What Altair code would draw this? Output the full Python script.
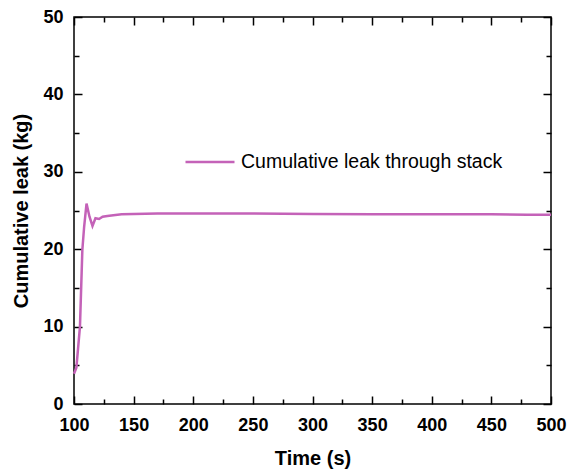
import altair as alt
import pandas as pd

# Cumulative hydrogen leak through the stack over time
time_s = [100, 102, 105, 107, 108.5, 110.5, 113, 115.5, 118, 121, 124, 128,
          133, 140, 150, 170, 200, 250, 300, 350, 400, 450, 480, 500]
leak_kg = [3.9, 4.7, 10.0, 19.9, 22.9, 25.9, 24.2, 23.0, 24.0, 23.9, 24.2, 24.3,
           24.4, 24.5, 24.55, 24.6, 24.6, 24.6, 24.55, 24.5, 24.5, 24.5, 24.45, 24.45]
series_name = "Cumulative leak through stack"

x_labels = [100, 150, 200, 250, 300, 350, 400, 450, 500]
x_ticks = list(range(100, 501, 25))
y_labels = [0, 10, 20, 30, 40, 50]
y_ticks = list(range(0, 51, 5))

W, H = 477, 387
LINE_COLOR = "#c462b8"
FONT = "Liberation Sans"

df = pd.DataFrame({"t": time_s, "leak": leak_kg, "series": series_name})

x_scale = alt.Scale(domain=[100, 500], nice=False, zero=False)
y_scale = alt.Scale(domain=[0, 50], nice=False)

tick_x = {"condition": {"test": "datum.value % 50 === 0", "value": 8}, "value": 5}
tick_y = {"condition": {"test": "datum.value % 10 === 0", "value": 8}, "value": 5}

base = alt.Chart(df)

# Data line with labelled axes and legend
line = base.mark_line(strokeWidth=2.5, color=LINE_COLOR).encode(
    x=alt.X("t:Q", scale=x_scale, title="Time (s)",
            axis=alt.Axis(values=x_labels, ticks=False, domain=False, grid=False,
                          labelFlush=False, labelPadding=12, titlePadding=14,
                          orient="bottom")),
    y=alt.Y("leak:Q", scale=y_scale, title="Cumulative leak (kg)",
            axis=alt.Axis(values=y_labels, ticks=False, domain=False, grid=False,
                          labelFlush=False, labelPadding=11, titlePadding=11,
                          orient="left")),
    color=alt.Color("series:N", scale=alt.Scale(range=[LINE_COLOR]),
                    legend=alt.Legend(title=None, orient="none", legendX=110, legendY=119,
                                      symbolType="stroke", symbolSize=2401,
                                      symbolStrokeWidth=2.5, labelFontSize=19.5,
                                      labelFont=FONT, labelFontWeight="normal",
                                      labelColor="#000", labelOffset=5, labelLimit=0)),
)

# Inward ticks on the bottom and left edges
ticks_bl = base.mark_line(opacity=0).encode(
    x=alt.X("t:Q", scale=x_scale, title=None,
            axis=alt.Axis(orient="top", offset=-H, values=x_ticks, labels=False,
                          domain=False, grid=False, tickSize=tick_x, tickWidth=1.5,
                          tickColor="#000")),
    y=alt.Y("leak:Q", scale=y_scale, title=None,
            axis=alt.Axis(orient="right", offset=-W, values=y_ticks, labels=False,
                          domain=False, grid=False, tickSize=tick_y, tickWidth=1.5,
                          tickColor="#000")),
)

# Inward ticks on the top and right edges
ticks_tr = base.mark_line(opacity=0).encode(
    x=alt.X("t:Q", scale=x_scale, title=None,
            axis=alt.Axis(orient="bottom", offset=-H, values=x_ticks, labels=False,
                          domain=False, grid=False, tickSize=tick_x, tickWidth=1.5,
                          tickColor="#000")),
    y=alt.Y("leak:Q", scale=y_scale, title=None,
            axis=alt.Axis(orient="left", offset=-W, values=y_ticks, labels=False,
                          domain=False, grid=False, tickSize=tick_y, tickWidth=1.5,
                          tickColor="#000")),
)

chart = alt.layer(line, ticks_bl, ticks_tr).resolve_axis(
    x="independent", y="independent"
).properties(
    width=W, height=H,
    autosize=alt.AutoSizeParams(type="none"),
    padding={"left": 74, "top": 17, "right": 28, "bottom": 70},
).configure(
    font=FONT,
).configure_view(
    stroke="#000", strokeWidth=1.5,
).configure_axis(
    labelFont=FONT, labelFontSize=18, labelFontWeight="bold", labelColor="#000",
    titleFont=FONT, titleFontSize=20, titleFontWeight="bold", titleColor="#000",
)

chart.save("out.html", embed_options={"renderer": "svg", "actions": False})
